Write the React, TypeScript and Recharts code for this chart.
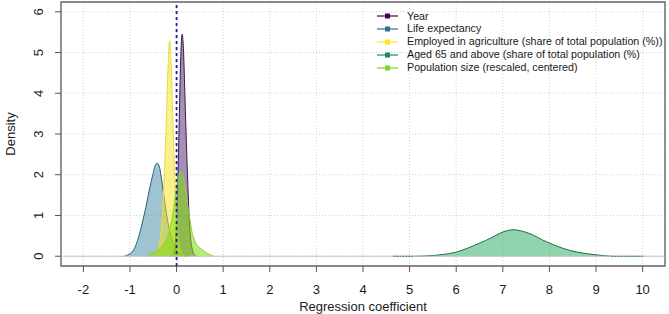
import React from 'react';
import {
  ComposedChart,
  Area,
  XAxis,
  YAxis,
  CartesianGrid,
  ReferenceLine,
  ReferenceArea,
  Legend,
} from 'recharts';

// ---------- data ----------
const xTicks = [-2, -1, 0, 1, 2, 3, 4, 5, 6, 7, 8, 9, 10];
const yTicks = [0, 1, 2, 3, 4, 5, 6];

const seriesNames = [
  'Year',
  'Life expectancy',
  'Employed in agriculture (share of total population (%))',
  'Aged 65 and above (share of total population (%)',
  'Population size (rescaled, centered)',
];

const yearDensity = [
  { x: -0.15, y: 0 }, { x: -0.08, y: 0.05 }, { x: -0.03, y: 0.3 }, { x: 0.0, y: 0.9 },
  { x: 0.03, y: 2.0 }, { x: 0.06, y: 3.5 }, { x: 0.09, y: 4.9 }, { x: 0.12, y: 5.45 },
  { x: 0.15, y: 5.0 }, { x: 0.18, y: 3.9 }, { x: 0.21, y: 2.8 }, { x: 0.24, y: 1.8 },
  { x: 0.27, y: 0.95 }, { x: 0.3, y: 0.45 }, { x: 0.34, y: 0.15 }, { x: 0.38, y: 0.04 },
  { x: 0.42, y: 0 },
];

const lifeDensity = [
  { x: -1.12, y: 0 }, { x: -1.05, y: 0.03 }, { x: -0.98, y: 0.08 }, { x: -0.9, y: 0.2 },
  { x: -0.82, y: 0.45 }, { x: -0.74, y: 0.8 }, { x: -0.66, y: 1.2 }, { x: -0.58, y: 1.65 },
  { x: -0.51, y: 2.0 }, { x: -0.45, y: 2.25 }, { x: -0.41, y: 2.28 }, { x: -0.37, y: 2.2 },
  { x: -0.33, y: 1.95 }, { x: -0.28, y: 1.55 }, { x: -0.23, y: 1.15 }, { x: -0.18, y: 0.8 },
  { x: -0.12, y: 0.5 }, { x: -0.06, y: 0.28 }, { x: 0.0, y: 0.14 }, { x: 0.08, y: 0.05 },
  { x: 0.16, y: 0.01 }, { x: 0.25, y: 0 },
];

const agricultureDensity = [
  { x: -0.55, y: 0 }, { x: -0.45, y: 0.05 }, { x: -0.38, y: 0.25 }, { x: -0.32, y: 0.8 },
  { x: -0.27, y: 1.8 }, { x: -0.23, y: 3.0 }, { x: -0.19, y: 4.4 }, { x: -0.15, y: 5.29 },
  { x: -0.12, y: 4.8 }, { x: -0.09, y: 3.7 }, { x: -0.06, y: 2.6 }, { x: -0.03, y: 1.6 },
  { x: 0.0, y: 0.9 }, { x: 0.04, y: 0.4 }, { x: 0.08, y: 0.15 }, { x: 0.13, y: 0.04 },
  { x: 0.2, y: 0 },
];

const agedDensity = [
  { x: 5.1, y: 0 }, { x: 5.4, y: 0.01 }, { x: 5.7, y: 0.04 }, { x: 6.0, y: 0.1 },
  { x: 6.25, y: 0.2 }, { x: 6.5, y: 0.32 }, { x: 6.75, y: 0.45 }, { x: 6.95, y: 0.57 },
  { x: 7.1, y: 0.63 }, { x: 7.22, y: 0.65 }, { x: 7.4, y: 0.62 }, { x: 7.65, y: 0.52 },
  { x: 7.85, y: 0.4 }, { x: 8.05, y: 0.3 }, { x: 8.25, y: 0.21 }, { x: 8.45, y: 0.14 },
  { x: 8.7, y: 0.08 }, { x: 8.95, y: 0.04 }, { x: 9.15, y: 0.015 }, { x: 9.33, y: 0 },
];

const populationDensity = [
  { x: -0.65, y: 0 }, { x: -0.55, y: 0.05 }, { x: -0.45, y: 0.12 }, { x: -0.35, y: 0.2 },
  { x: -0.25, y: 0.35 }, { x: -0.15, y: 0.65 }, { x: -0.08, y: 1.05 }, { x: -0.02, y: 1.55 },
  { x: 0.03, y: 1.9 }, { x: 0.08, y: 2.07 }, { x: 0.13, y: 2.0 }, { x: 0.18, y: 1.7 },
  { x: 0.23, y: 1.3 }, { x: 0.28, y: 0.95 }, { x: 0.33, y: 0.6 }, { x: 0.4, y: 0.35 },
  { x: 0.48, y: 0.22 }, { x: 0.56, y: 0.15 }, { x: 0.65, y: 0.08 }, { x: 0.73, y: 0.03 },
  { x: 0.8, y: 0 },
];

const agedTailLeft = [4.65, 5.1];
const agedTailRight = [9.33, 10.0];

const seriesData = [yearDensity, lifeDensity, agricultureDensity, agedDensity, populationDensity];

// ---------- styles ----------
const legendColors = ['#440154', '#2c728e', '#fde725', '#1f8a55', '#7ad62a'];
const fillColors = ['#4b1f6b', '#3b89a1', '#f5e119', '#1fa95b', '#80dc00'];
const fillOpacities = [0.5, 0.5, 0.5, 0.5, 0.55];
const strokeColors = ['#3b1650', '#2a5f73', '#e8dc3c', '#1c6e46', '#8ed63a'];

const FONT = '"Liberation Sans", Arial, sans-serif';
const FS = 13;
const xDomain: [number, number] = [-2.48, 10.48];
const yDomain: [number, number] = [-0.24, 6.24];

const YTick = (props: any) => {
  const { y, payload } = props;
  const bx = 43;
  return (
    <text
      x={bx}
      y={y}
      transform={`rotate(-90 ${bx} ${y})`}
      textAnchor="middle"
      fontSize={FS}
      fontFamily={FONT}
      fill="#1a1a1a"
    >
      {payload.value}
    </text>
  );
};

const YLabel = (props: any) => {
  const vb = props.viewBox || { y: 2, height: 264 };
  const cy = vb.y + vb.height / 2;
  const bx = 14.5;
  return (
    <text
      x={bx}
      y={cy}
      transform={`rotate(-90 ${bx} ${cy})`}
      textAnchor="middle"
      fontSize={FS}
      fontFamily={FONT}
      fill="#1a1a1a"
    >
      Density
    </text>
  );
};

const renderLegend = () => (
  <div style={{ fontFamily: FONT, fontSize: 10.7, color: '#1a1a1a' }}>
    {seriesNames.map((name, i) => (
      <div key={name} style={{ height: 12.9, display: 'flex', alignItems: 'center', whiteSpace: 'nowrap' }}>
        <svg width={30} height={10} style={{ display: 'block' }}>
          <line x1={0} y1={5} x2={21} y2={5} stroke={legendColors[i]} strokeWidth={1.2} />
          <rect x={8} y={2.5} width={5} height={5} fill={legendColors[i]} />
        </svg>
        <span style={{ lineHeight: '12.9px' }}>{name}</span>
      </div>
    ))}
  </div>
);

export default function App() {
  return (
    <div style={{ position: 'absolute', left: 0, top: 0 }}>
      <ComposedChart
        width={669}
        height={314}
        margin={{ top: 2, right: 4, bottom: 0, left: 0 }}
        style={{ background: '#ffffff' }}
      >
        <CartesianGrid stroke="#d0d0d0" strokeDasharray="1 2" />
        <XAxis
          type="number"
          dataKey="x"
          domain={xDomain}
          ticks={xTicks}
          allowDataOverflow
          height={48}
          tickSize={6}
          tickMargin={13}
          axisLine={false}
          tickLine={{ stroke: '#555555' }}
          tick={{ fontSize: FS, fontFamily: FONT, fill: '#1a1a1a' }}
          label={{
            value: 'Regression coefficient',
            position: 'insideBottom',
            offset: 3,
            fontSize: FS,
            fontFamily: FONT,
            fill: '#1a1a1a',
          }}
        />
        <YAxis
          type="number"
          domain={yDomain}
          ticks={yTicks}
          allowDataOverflow
          width={61}
          tickSize={6}
          axisLine={false}
          tickLine={{ stroke: '#555555' }}
          tick={<YTick />}
          label={<YLabel />}
        />
        <ReferenceLine y={0} stroke="#c4c4c4" strokeWidth={1} />
        {seriesData.map((d, i) => (
          <Area
            key={seriesNames[i]}
            data={d}
            dataKey="y"
            name={seriesNames[i]}
            type="monotone"
            baseValue={0}
            fill={fillColors[i]}
            fillOpacity={fillOpacities[i]}
            stroke={strokeColors[i]}
            strokeWidth={1}
            dot={false}
            activeDot={false}
            isAnimationActive={false}
          />
        ))}
        <ReferenceLine
          segment={[{ x: agedTailLeft[0], y: 0 }, { x: agedTailLeft[1], y: 0 }]}
          stroke="#1c6e46"
          strokeDasharray="2 1"
          strokeWidth={1}
        />
        <ReferenceLine
          segment={[{ x: agedTailRight[0], y: 0 }, { x: agedTailRight[1], y: 0 }]}
          stroke="#1c6e46"
          strokeDasharray="2 1"
          strokeWidth={1}
        />
        <ReferenceLine x={0} stroke="#1e1ea8" strokeDasharray="3 3" strokeWidth={1.8} />
        <ReferenceArea
          x1={xDomain[0]}
          x2={xDomain[1]}
          y1={yDomain[0]}
          y2={yDomain[1]}
          fill="none"
          fillOpacity={0}
          stroke="#666666"
          strokeWidth={1.4}
          ifOverflow="visible"
        />
        <Legend
          layout="vertical"
          align="center"
          verticalAlign="middle"
          content={renderLegend}
          wrapperStyle={{ left: 377, top: 9.5, width: 292, height: 66 }}
        />
      </ComposedChart>
    </div>
  );
}
